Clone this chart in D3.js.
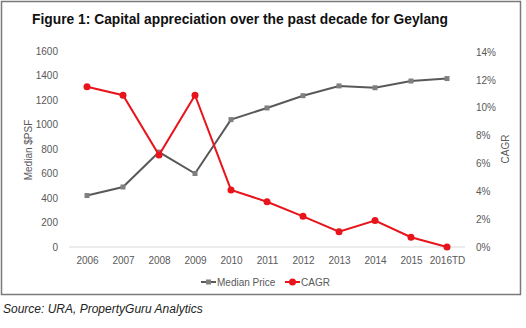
<!DOCTYPE html>
<html>
<head>
<meta charset="utf-8">
<script src="https://cdn.jsdelivr.net/npm/d3@7"></script>
<style>
  body { margin: 0; background: #fff; }
  text { font-family: "Liberation Sans", Arial, sans-serif; }
</style>
</head>
<body>
<div id="chart"></div>
<script>
const years = ["2006", "2007", "2008", "2009", "2010", "2011", "2012", "2013", "2014", "2015", "2016TD"];
const medianPrice = [420, 490, 775, 600, 1040, 1135, 1235, 1315, 1300, 1355, 1375];
const cagr = [11.5, 10.9, 6.6, 10.9, 4.1, 3.25, 2.2, 1.1, 1.9, 0.7, 0.0];
const leftTicks = [0, 200, 400, 600, 800, 1000, 1200, 1400, 1600];
const rightTicks = [0, 2, 4, 6, 8, 10, 12, 14];

let width = 526,
    height = 328;

const svg = d3.select("#chart")
    .append("svg")
    .attr("width", width)
    .attr("height", height);

// outer frame
svg.append("rect")
    .attr("x", 1.5).attr("y", 1.5)
    .attr("width", 519).attr("height", 293)
    .attr("fill", "none")
    .attr("stroke", "#7a7a7a")
    .attr("stroke-width", 1.5);

svg.append("text")
    .attr("x", 32)
    .attr("y", 24)
    .attr("font-size", 14)
    .attr("font-weight", "bold")
    .attr("fill", "#111")
    .attr("textLength", 416)
    .attr("lengthAdjust", "spacingAndGlyphs")
    .text("Figure 1: Capital appreciation over the past decade for Geylang");

let x = d3.scalePoint()
    .domain(years)
    .range([87, 447]);

let y = d3.scaleLinear()
    .domain([0, 1600])
    .range([247, 51]);

let y2 = d3.scaleLinear()
    .domain([0, 14])
    .range([247, 52]);

// baseline
svg.append("line")
    .attr("x1", 69).attr("x2", 465)
    .attr("y1", y(0)).attr("y2", y(0))
    .attr("stroke", "#d9d9d9");

svg.append("g")
    .attr("transform", "translate(58,0)")
    .call(d3.axisLeft(y).tickValues(leftTicks).tickSize(0).tickPadding(0).tickFormat(d3.format("d")))
    .call(g => g.select(".domain").remove())
    .selectAll("text")
    .attr("font-size", 10)
    .attr("fill", "#595959");

svg.append("g")
    .attr("transform", "translate(476,0)")
    .call(d3.axisRight(y2).tickValues(rightTicks).tickSize(0).tickPadding(0).tickFormat(d => d + "%"))
    .call(g => g.select(".domain").remove())
    .selectAll("text")
    .attr("font-size", 10)
    .attr("fill", "#595959");

svg.append("g")
    .attr("transform", "translate(0,254)")
    .call(d3.axisBottom(x).tickSize(0).tickPadding(3))
    .call(g => g.select(".domain").remove())
    .selectAll("text")
    .attr("font-size", 10)
    .attr("fill", "#595959");

svg.append("text")
    .attr("transform", "translate(32,150) rotate(-90)")
    .attr("text-anchor", "middle")
    .attr("font-size", 10)
    .attr("fill", "#595959")
    .text("Median $PSF");

svg.append("text")
    .attr("transform", "translate(509,149) rotate(-90)")
    .attr("text-anchor", "middle")
    .attr("font-size", 10)
    .attr("fill", "#595959")
    .text("CAGR");

const grey = "#595959", greyMark = "#7f7f7f", red = "#e8141b";

let priceLine = d3.line()
    .x((d, i) => x(years[i]))
    .y(d => y(d));

let cagrLine = d3.line()
    .x((d, i) => x(years[i]))
    .y(d => y2(d));

svg.append("path")
    .datum(medianPrice)
    .attr("fill", "none")
    .attr("stroke", grey)
    .attr("stroke-width", 2)
    .attr("d", priceLine);

svg.selectAll(".sq")
    .data(medianPrice)
    .join("rect")
    .attr("x", (d, i) => x(years[i]) - 2.5)
    .attr("y", d => y(d) - 2.5)
    .attr("width", 5).attr("height", 5)
    .attr("fill", greyMark);

svg.append("path")
    .datum(cagr)
    .attr("fill", "none")
    .attr("stroke", red)
    .attr("stroke-width", 2)
    .attr("d", cagrLine);

svg.selectAll(".dot")
    .data(cagr)
    .join("circle")
    .attr("cx", (d, i) => x(years[i]))
    .attr("cy", d => y2(d))
    .attr("r", 3.5)
    .attr("fill", red);

// legend
let lg = svg.append("g").attr("transform", "translate(0,282)");
lg.append("line").attr("x1", 201).attr("x2", 216).attr("stroke", grey).attr("stroke-width", 2);
lg.append("rect").attr("x", 206).attr("y", -2.5).attr("width", 5).attr("height", 5).attr("fill", greyMark);
lg.append("text").attr("x", 217).attr("y", 3.5).attr("font-size", 10).attr("fill", "#595959").text("Median Price");
lg.append("line").attr("x1", 285).attr("x2", 300).attr("stroke", red).attr("stroke-width", 2);
lg.append("circle").attr("cx", 292.5).attr("r", 3.5).attr("fill", red);
lg.append("text").attr("x", 301).attr("y", 3.5).attr("font-size", 10).attr("fill", "#595959").text("CAGR");

svg.append("text")
    .attr("x", 3)
    .attr("y", 313)
    .attr("font-size", 12)
    .attr("font-style", "italic")
    .attr("fill", "#222")
    .text("Source: URA, PropertyGuru Analytics");
</script>
</body>
</html>
